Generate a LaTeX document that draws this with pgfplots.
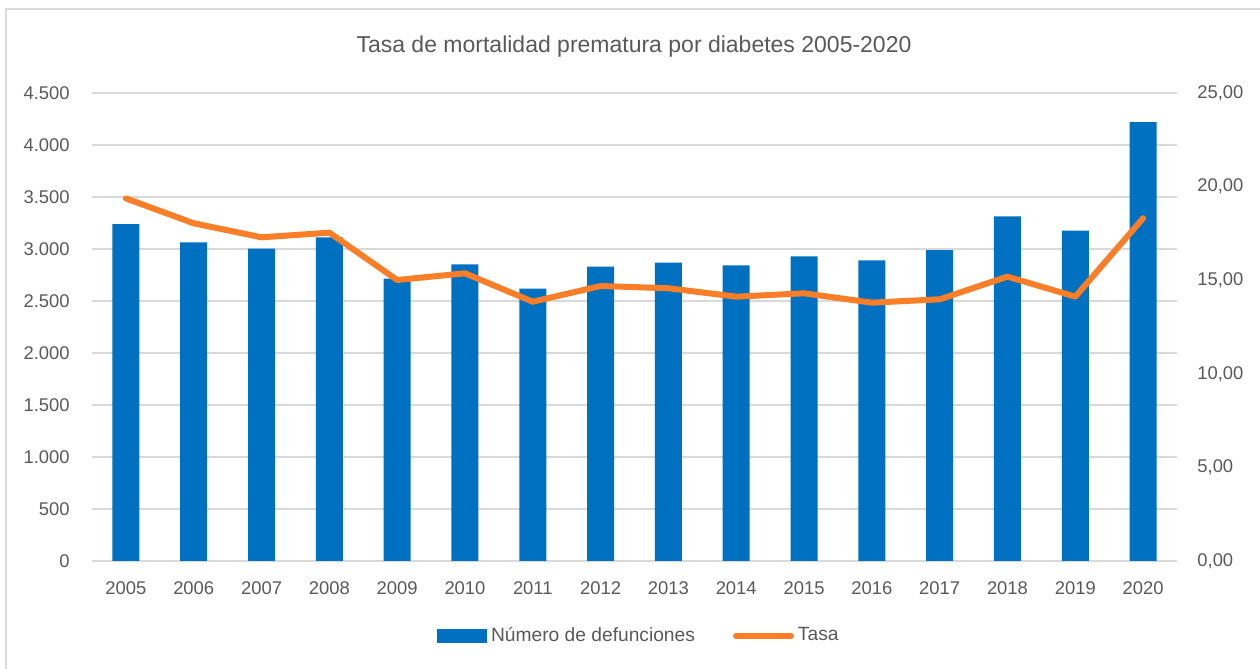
\documentclass[border=0pt]{standalone}
\usepackage{pgfplots}
\pgfplotsset{compat=1.18}
\usepackage{fontspec}
\setmainfont{Liberation Sans}
\definecolor{barblue}{RGB}{0,112,192}
\definecolor{lineorange}{RGB}{250,125,40}
\definecolor{txtgray}{RGB}{89,89,89}
\definecolor{gridgray}{RGB}{217,217,217}
\begin{document}
\begin{tikzpicture}
\path[use as bounding box] (0pt,0pt) rectangle (630pt,334.5pt);
\draw[gridgray, line width=1pt] (3pt,0pt) -- (3pt,330pt) -- (630pt,330pt);
\node[txtgray, font=\fontsize{11.5}{13}\selectfont] at (317pt,311pt) {Tasa de mortalidad prematura por diabetes 2005-2020};
\begin{axis}[
  at={(46pt,54pt)}, anchor=south west,
  scale only axis, width=542.5pt, height=234pt,
  xmin=-0.5, xmax=15.5, ymin=0, ymax=4500,
  xtick={0,...,15},
  xticklabels={2005,2006,2007,2008,2009,2010,2011,2012,2013,2014,2015,2016,2017,2018,2019,2020},
  ytick={0,500,...,4500},
  yticklabels={0,500,1.000,1.500,2.000,2.500,3.000,3.500,4.000,4.500},
  axis line style={draw=none},
  major tick length=0pt,
  ymajorgrids, grid style={gridgray, line width=0.75pt},
  tick label style={txtgray, font=\fontsize{9.2}{11}\selectfont},
  /pgf/number format/assume math mode=true,
  yticklabel style={anchor=east, inner sep=0pt, xshift=-11pt},
  xticklabel style={anchor=north, inner sep=0pt, yshift=-10pt},
]
\addplot[ybar, bar width=13.5pt, fill=barblue, draw=none] coordinates {
(0,3240) (1,3064) (2,3003) (3,3112) (4,2714) (5,2853) (6,2618) (7,2830)
(8,2869) (9,2843) (10,2929) (11,2891) (12,2990) (13,3314) (14,3176) (15,4221)};
\end{axis}
\begin{axis}[
  at={(46pt,54pt)}, anchor=south west,
  scale only axis, width=542.5pt, height=234pt,
  xmin=-0.5, xmax=15.5, ymin=0, ymax=25,
  xtick=\empty,
  axis y line*=right, axis x line=none,
  ytick={0,5,...,25},
  yticklabels={{0,00},{5,00},{10,00},{15,00},{20,00},{25,00}},
  axis line style={draw=none},
  major tick length=0pt,
  tick label style={txtgray, font=\fontsize{9.2}{11}\selectfont},
  /pgf/number format/assume math mode=true,
  yticklabel style={anchor=west, inner sep=0pt, xshift=10pt},
  legend style={at={(0.505,-0.16)}, anchor=center, draw=none, fill=none,
    font=\fontsize{9.6}{11}\selectfont, text=txtgray,
    /tikz/every even column/.append style={column sep=17pt}},
  legend columns=2,
]
\addlegendimage{legend image code/.code={\fill[barblue] (0pt,-3.25pt) rectangle (24.5pt,3.25pt);}}
\addlegendentry{Número de defunciones}
\addplot[lineorange, line width=3pt, line join=round, line cap=round,
  legend image code/.code={\draw[lineorange, line width=3pt, line cap=round] (0pt,0pt) -- (27.5pt,0pt);}] coordinates {
(0,19.37) (1,18.04) (2,17.29) (3,17.54) (4,15.01) (5,15.37) (6,13.85) (7,14.69)
(8,14.57) (9,14.12) (10,14.30) (11,13.80) (12,13.98) (13,15.19) (14,14.12) (15,18.31)};
\addlegendentry{Tasa}
\end{axis}
\end{tikzpicture}
\end{document}
